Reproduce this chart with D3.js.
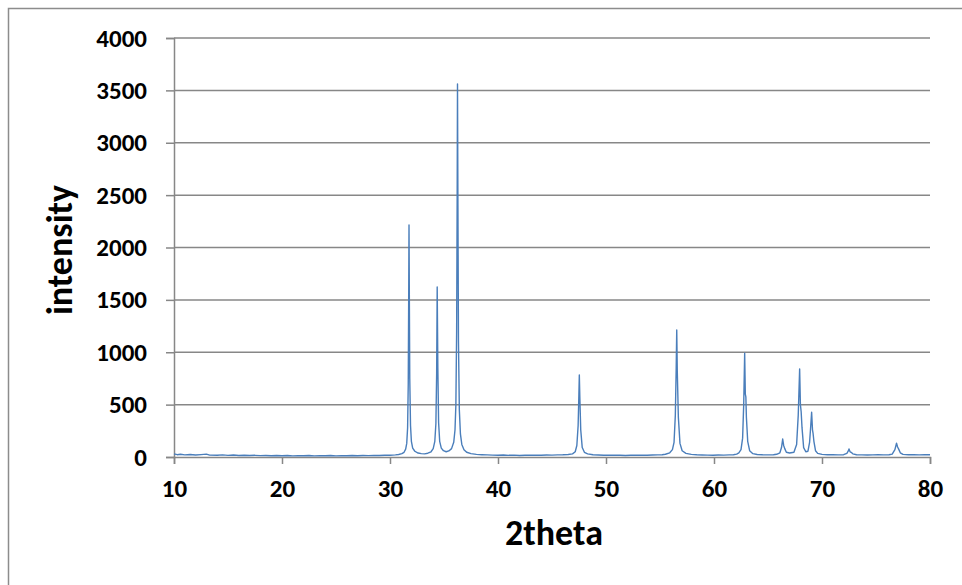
<!DOCTYPE html>
<html>
<head>
<meta charset="utf-8">
<script src="https://cdn.jsdelivr.net/npm/d3@7/dist/d3.min.js"></script>
<style>
  body { margin: 0; background: #fff; }
  text { font-family: Carlito, Calibri, "Liberation Sans", Arial, sans-serif; font-weight: bold; fill: #000; }
</style>
</head>
<body>
<div id="chart"></div>
<script>
// 2theta / intensity pairs
var twoTheta = [
  10.0, 10.3, 10.6, 11.0, 11.5, 12.0, 12.5, 13.0, 13.3, 14.0, 14.5, 15.0, 15.5, 16.0, 16.5, 17.0,
  17.5, 18.0, 18.5, 19.0, 19.5, 20.0, 20.5, 21.0, 21.5, 22.0, 22.5, 23.0, 23.5, 24.0, 24.5, 25.0,
  25.5, 26.0, 26.5, 27.0, 27.5, 28.0, 28.5, 29.0, 29.5, 30.0, 30.5, 30.8, 31.1, 31.3, 31.45, 31.55,
  31.63, 31.69, 31.73, 31.76, 31.79, 31.83, 31.9, 31.98, 32.1, 32.3, 32.6, 32.9, 33.2, 33.5, 33.8, 34.0,
  34.15, 34.25, 34.32, 34.37, 34.43, 34.5, 34.6, 34.75, 34.95, 35.2, 35.45, 35.7, 35.9, 36.02, 36.1, 36.17,
  36.22, 36.25, 36.29, 36.34, 36.42, 36.52, 36.65, 36.85, 37.1, 37.5, 38.0, 38.5, 39.0, 39.5, 40.0, 40.5,
  41.0, 41.5, 42.0, 42.5, 43.0, 43.5, 44.0, 44.5, 45.0, 45.5, 46.0, 46.5, 46.9, 47.15, 47.3, 47.42,
  47.49, 47.53, 47.58, 47.66, 47.8, 48.0, 48.3, 48.8, 49.3, 49.8, 50.3, 50.8, 51.3, 51.8, 52.3, 52.8,
  53.3, 53.8, 54.3, 54.8, 55.2, 55.5, 55.9, 56.15, 56.3, 56.42, 56.5, 56.55, 56.6, 56.7, 56.85, 57.05,
  57.4, 57.9, 58.4, 58.9, 59.4, 59.9, 60.4, 60.9, 61.4, 61.8, 62.1, 62.3, 62.5, 62.65, 62.75, 62.84,
  62.9, 62.95, 63.0, 63.12, 63.3, 63.6, 64.0, 64.5, 65.0, 65.5, 65.8, 66.1, 66.25, 66.36, 66.45, 66.55,
  66.7, 67.0, 67.4, 67.65, 67.8, 67.93, 68.0, 68.07, 68.15, 68.3, 68.5, 68.7, 68.85, 68.96, 69.04, 69.12,
  69.17, 69.25, 69.4, 69.6, 70.0, 70.5, 71.0, 71.5, 72.0, 72.3, 72.45, 72.5, 72.6, 72.7, 72.85, 73.2,
  73.7, 74.2, 74.7, 75.2, 75.7, 76.2, 76.5, 76.75, 76.9, 77.0, 77.1, 77.25, 77.5, 78.0, 78.5, 79.0,
  79.5, 80.0
];
var intensity = [
  30, 22, 26, 20, 24, 19, 23, 27, 18, 17, 20, 16, 19, 15, 17, 14,
  16, 13, 15, 12, 15, 12, 14, 11, 13, 12, 15, 11, 13, 12, 14, 11,
  13, 12, 14, 12, 15, 13, 15, 14, 16, 17, 20, 24, 32, 45, 75, 130,
  280, 700, 1500, 2215, 1550, 750, 300, 150, 85, 55, 38, 32, 30, 36, 50, 80,
  150, 320, 800, 1623, 850, 330, 150, 85, 60, 50, 58, 80, 140, 260, 500, 1200,
  2500, 3561, 2400, 1100, 450, 220, 120, 70, 45, 32, 25, 22, 20, 18, 17, 19,
  16, 18, 15, 17, 16, 18, 17, 19, 18, 20, 21, 24, 30, 50, 110, 300,
  600, 783, 560, 260, 90, 45, 30, 22, 19, 17, 18, 16, 17, 15, 17, 16,
  18, 17, 19, 20, 22, 26, 40, 70, 140, 400, 850, 1212, 820, 380, 130, 60,
  35, 25, 21, 19, 18, 17, 19, 18, 20, 22, 28, 40, 70, 180, 500, 990,
  600, 575, 380, 150, 60, 32, 24, 21, 20, 22, 26, 40, 90, 172, 110, 80,
  45, 38, 45, 120, 400, 840, 500, 432, 280, 90, 50, 55, 140, 300, 427, 260,
  229, 150, 60, 35, 25, 22, 21, 20, 22, 35, 60, 76, 50, 45, 30, 22,
  20, 19, 20, 21, 20, 22, 28, 70, 131, 95, 75, 40, 25, 22, 21, 20,
  21, 22
];
var xTicks = [10, 20, 30, 40, 50, 60, 70, 80];
var yTicks = [0, 500, 1000, 1500, 2000, 2500, 3000, 3500, 4000];

var svgWidth = 962;
var svgHeight = 585;
var margin = { top: 38, right: 32, bottom: 128, left: 174 };
var width = svgWidth - margin.left - margin.right;
var height = svgHeight - margin.top - margin.bottom;

var svg = d3.select("#chart").append("svg")
  .attr("width", svgWidth)
  .attr("height", svgHeight);

// chart area border
svg.append("rect")
  .attr("x", 8.5).attr("y", 8.5)
  .attr("width", 1000).attr("height", 1000)
  .attr("fill", "none")
  .attr("stroke", "#8c8c8c")
  .attr("stroke-width", 1.5);

var g = svg.append("g")
  .attr("transform", `translate(${margin.left}, ${margin.top})`);

var x = d3.scaleLinear().domain([10, 80]).range([0, width]);
var y = d3.scaleLinear().domain([0, 4000]).range([height, 0]);

// horizontal gridlines
g.append("g")
  .selectAll("line")
  .data(yTicks.slice(1))
  .enter()
  .append("line")
  .attr("x1", 0).attr("x2", width)
  .attr("y1", d => y(d)).attr("y2", d => y(d))
  .attr("stroke", "#878787")
  .attr("stroke-width", 1.5);

// y axis
var leftAxis = d3.axisLeft(y).tickValues(yTicks).tickFormat(d3.format("d")).tickSize(8).tickPadding(19);
var yAxisG = g.append("g").call(leftAxis);
yAxisG.select(".domain").attr("stroke", "#878787").attr("stroke-width", 1.5);
yAxisG.selectAll(".tick line").attr("stroke", "#878787").attr("stroke-width", 1.5);
yAxisG.selectAll(".tick text").style("font-size", "25px").attr("dy", "0.32em");

// x axis
var bottomAxis = d3.axisBottom(x).tickValues(xTicks).tickFormat(d3.format("d")).tickSize(7).tickPadding(15);
var xAxisG = g.append("g")
  .attr("transform", `translate(0, ${height})`)
  .call(bottomAxis);
xAxisG.select(".domain").attr("stroke", "#878787").attr("stroke-width", 1.5);
xAxisG.selectAll(".tick line").attr("stroke", "#878787").attr("stroke-width", 1.5);
xAxisG.selectAll(".tick text").style("font-size", "25px");

// the pattern
var data = twoTheta.map((t, i) => ({ t: t, v: intensity[i] }));
var line = d3.line()
  .x(d => x(d.t))
  .y(d => y(d.v));

g.append("path")
  .datum(data)
  .attr("fill", "none")
  .attr("stroke", "#4a7ebb")
  .attr("stroke-width", 1.4)
  .attr("stroke-linejoin", "round")
  .attr("d", line);

// axis titles
svg.append("text")
  .attr("x", 554)
  .attr("y", 545)
  .attr("text-anchor", "middle")
  .style("font-size", "36px")
  .text("2theta");

svg.append("text")
  .attr("transform", "translate(72, 250) rotate(-90)")
  .attr("text-anchor", "middle")
  .style("font-size", "36px")
  .text("intensity");
</script>
</body>
</html>
